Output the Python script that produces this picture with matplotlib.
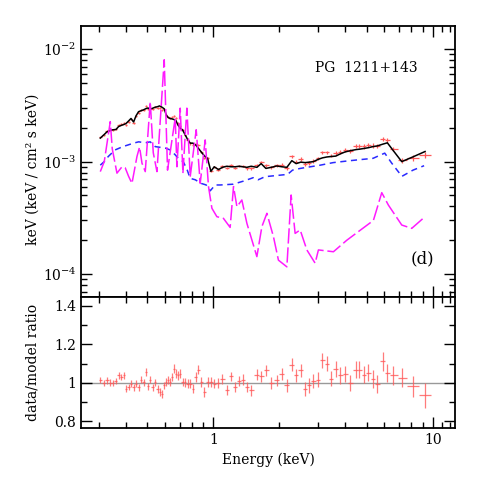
import numpy as np
import matplotlib
matplotlib.use('Agg')
import matplotlib.pyplot as plt
from matplotlib.ticker import FixedLocator, FixedFormatter, NullFormatter, MultipleLocator

# bin centres (keV)
energy = [0.3045, 0.3151, 0.3266, 0.3382, 0.3479, 0.3590, 0.3690, 0.3797, 0.3905, 0.3988,
          0.4100, 0.4204, 0.4320, 0.4430, 0.4552, 0.4683, 0.4797, 0.4919, 0.5023, 0.5146,
          0.5272, 0.5424, 0.5556, 0.5674, 0.5818, 0.5960, 0.6087, 0.6197, 0.6328, 0.6462,
          0.6599, 0.6739, 0.6881, 0.7050, 0.7222, 0.7430, 0.7612, 0.7830, 0.8056, 0.8315,
          0.8542, 0.8787, 0.9070, 0.9390, 0.9730, 1.0074, 1.0539, 1.0990, 1.1511, 1.2006,
          1.2559, 1.3098, 1.3614, 1.4197, 1.4852, 1.5770, 1.6498, 1.7335, 1.8323,
          1.945, 2.050, 2.161, 2.277, 2.382, 2.502, 2.618, 2.739, 2.856, 3.010,
          3.139, 3.288, 3.429, 3.613, 3.780, 3.984, 4.199, 4.471, 4.629, 4.863,
          5.088, 5.328, 5.591, 5.916, 6.209, 6.613, 7.223, 8.104, 9.224]

# total model (keV^2 photons / cm^2 s keV)
model = [1.62e-3, 1.72e-3, 1.84e-3, 1.90e-3, 1.92e-3, 1.93e-3, 2.05e-3, 2.10e-3, 2.14e-3, 2.18e-3,
         2.30e-3, 2.42e-3, 2.25e-3, 2.55e-3, 2.78e-3, 2.84e-3, 2.89e-3, 2.96e-3, 3.00e-3, 2.93e-3,
         2.98e-3, 3.05e-3, 3.08e-3, 3.13e-3, 3.05e-3, 2.95e-3, 2.60e-3, 2.48e-3, 2.42e-3, 2.40e-3,
         2.37e-3, 2.32e-3, 2.12e-3, 1.98e-3, 1.92e-3, 1.73e-3, 1.58e-3, 1.46e-3, 1.46e-3, 1.40e-3,
         1.31e-3, 1.22e-3, 1.13e-3, 1.07e-3, 8.2e-4, 9.0e-4, 8.5e-4, 8.9e-4, 9.1e-4, 9.0e-4,
         9.0e-4, 9.1e-4, 9.0e-4, 8.9e-4, 9.1e-4, 8.9e-4, 9.6e-4, 8.7e-4, 8.9e-4,
         9.15e-4, 9.0e-4, 8.9e-4, 1.02e-3, 9.6e-4, 9.9e-4, 9.8e-4, 9.9e-4, 1.0e-3, 1.05e-3,
         1.08e-3, 1.10e-3, 1.11e-3, 1.12e-3, 1.17e-3, 1.22e-3, 1.25e-3, 1.28e-3, 1.29e-3, 1.31e-3,
         1.33e-3, 1.36e-3, 1.38e-3, 1.43e-3, 1.47e-3, 1.25e-3, 1.0e-3, 1.10e-3, 1.23e-3]

# data / model ratio and its error
ratio = [1.016, 0.998, 1.012, 1.000, 0.998, 1.009, 1.038, 1.030, 1.040, 0.969,
         0.977, 0.995, 0.977, 0.995, 0.977, 1.016, 1.003, 1.056, 0.981, 1.016,
         0.977, 1.003, 0.969, 0.951, 0.943, 0.986, 1.003, 1.012, 1.003, 1.030,
         1.073, 1.047, 1.038, 1.047, 1.003, 1.003, 0.995, 0.995, 0.969, 1.030,
         1.068, 1.003, 0.951, 1.003, 1.003, 0.995, 0.998, 1.021, 0.963, 1.033,
         0.977, 1.009, 1.016, 0.977, 0.960, 1.042, 1.033, 1.064, 0.998,
         1.012, 1.047, 0.986, 1.094, 1.038, 1.064, 0.969, 0.986, 1.009, 1.016,
         1.117, 1.099, 1.021, 1.073, 1.038, 1.047, 0.998, 1.068, 1.068, 1.042,
         1.052, 1.021, 0.995, 1.111, 1.050, 1.038, 1.026, 0.981, 0.934]
ratio_err = [0.016, 0.016, 0.017, 0.017, 0.016, 0.017, 0.018, 0.017, 0.018, 0.017,
             0.017, 0.018, 0.018, 0.017, 0.018, 0.018, 0.018, 0.019, 0.018, 0.018,
             0.019, 0.019, 0.020, 0.020, 0.020, 0.020, 0.021, 0.021, 0.022, 0.022,
             0.024, 0.022, 0.023, 0.022, 0.022, 0.023, 0.022, 0.023, 0.024, 0.024,
             0.025, 0.025, 0.026, 0.025, 0.025, 0.024, 0.025, 0.026, 0.026, 0.025,
             0.026, 0.026, 0.027, 0.027, 0.027, 0.028, 0.028, 0.030, 0.030,
             0.030, 0.032, 0.033, 0.035, 0.035, 0.036, 0.036, 0.037, 0.037, 0.038,
             0.040, 0.040, 0.040, 0.042, 0.042, 0.042, 0.043, 0.044, 0.044, 0.045,
             0.045, 0.046, 0.046, 0.048, 0.048, 0.050, 0.050, 0.055, 0.065]

# power-law continuum component
pl_energy = [0.3045, 0.3175, 0.3311, 0.3555, 0.3860, 0.4089, 0.4315, 0.4557, 0.4884, 0.5146,
             0.5423, 0.5716, 0.6024, 0.6349, 0.6689, 0.6904, 0.7277, 0.7593, 0.7830, 0.8253,
             0.8794, 0.9262, 0.9660, 1.0176, 1.073, 1.229, 1.366, 1.518, 1.599, 1.720,
             2.177, 2.293, 2.485, 3.066, 3.514, 4.196, 5.341, 6.041, 6.498, 7.233, 8.125, 9.133]
pl_flux = [9.3e-4, 1.0e-3, 1.11e-3, 1.27e-3, 1.36e-3, 1.41e-3, 1.46e-3, 1.50e-3, 1.47e-3, 1.50e-3,
           1.36e-3, 1.34e-3, 1.32e-3, 1.27e-3, 1.15e-3, 1.07e-3, 1.0e-3, 8.4e-4, 7.1e-4, 6.9e-4,
           6.4e-4, 6.2e-4, 5.5e-4, 6.2e-4, 6.2e-4, 6.3e-4, 6.7e-4, 7.2e-4, 6.9e-4, 7.35e-4,
           7.7e-4, 8.4e-4, 8.7e-4, 9.3e-4, 9.8e-4, 1.02e-3, 1.07e-3, 1.19e-3, 9.7e-4, 7.4e-4, 8.4e-4, 9.2e-4]

# reflection / line component
refl_energy = [0.3045, 0.3175, 0.3382, 0.3453, 0.3628, 0.3825, 0.3958, 0.4100, 0.4247, 0.4476,
               0.4600, 0.4718, 0.4884, 0.5146, 0.5312, 0.5521, 0.5960, 0.6171, 0.6414, 0.6689,
               0.6810, 0.7050, 0.7253, 0.7561, 0.7830, 0.8340, 0.8697, 0.9166, 0.9489, 0.9833,
               1.036, 1.110, 1.191, 1.234, 1.279, 1.347, 1.420, 1.577, 1.662, 1.752,
               1.877, 1.978, 2.161, 2.260, 2.357, 2.485, 2.666, 2.908, 3.010, 3.524,
               4.055, 5.362, 5.855, 6.275, 7.223, 8.021, 9.224]
refl_flux = [8.15e-4, 1.0e-3, 2.27e-3, 1.3e-3, 7.9e-4, 9.0e-4, 8.8e-4, 7.4e-4, 6.4e-4, 1.11e-3,
             1.35e-3, 9.7e-4, 8.15e-4, 3.42e-3, 1.2e-3, 8.15e-4, 8.05e-3, 8.4e-4, 1.4e-3, 2.44e-3,
             9.0e-4, 2.99e-3, 7.9e-4, 2.99e-3, 7.35e-4, 1.92e-3, 6.42e-4, 1.56e-3, 6.0e-4, 3.85e-4,
             3.24e-4, 3.13e-4, 2.6e-4, 6.0e-4, 3.97e-4, 4.56e-4, 2.83e-4, 1.43e-4, 2.64e-4, 3.47e-4,
             2.15e-4, 1.33e-4, 1.16e-4, 5.05e-4, 2.3e-4, 2.47e-4, 1.64e-4, 1.25e-4, 1.64e-4, 1.58e-4,
             2.0e-4, 3.0e-4, 5.3e-4, 4.11e-4, 2.73e-4, 2.55e-4, 3.24e-4]

plt.rcParams['font.family'] = 'DejaVu Serif'
plt.rcParams['mathtext.fontset'] = 'dejavuserif'

e = np.array(energy)
mid = np.sqrt(e[1:] * e[:-1])
lo = np.concatenate([[e[0] ** 2 / mid[0]], mid])
hi = np.concatenate([mid, [e[-1] ** 2 / mid[-1]]])
xerr = [e - lo, hi - e]
data = np.array(model) * np.array(ratio)
data_err = np.array(model) * np.array(ratio_err)

red = '#ff5a5a'

fig = plt.figure(figsize=(4.8, 4.8), dpi=100)
ax1 = fig.add_axes([0.169, 0.381, 0.779, 0.565])
ax2 = fig.add_axes([0.169, 0.108, 0.779, 0.273])

# top panel: unfolded spectrum
ax1.errorbar(e, data, xerr=xerr, yerr=data_err, fmt='none', ecolor=red, elinewidth=0.9)
ax1.plot(e, model, color='black', lw=1.1)
ax1.plot(pl_energy, pl_flux, color='#2a2aff', lw=1.1, dashes=(4, 3))
ax1.plot(refl_energy, refl_flux, color='#ff1aff', lw=1.1, dashes=(10, 2.5))
ax1.set_xscale('log')
ax1.set_yscale('log')
ax1.set_xlim(0.249, 12.64)
ax1.set_ylim(6.24e-5, 1.61e-2)
ax1.set_ylabel('keV (keV / cm² s keV)', fontsize=10)
ax1.yaxis.set_label_coords(-0.11, 0.47)
ax1.text(0.90, 0.845, 'PG  1211+143', transform=ax1.transAxes, ha='right', va='center', fontsize=10)
ax1.text(0.945, 0.14, '(d)', transform=ax1.transAxes, ha='right', va='center', fontsize=12)

# bottom panel: ratio
ax2.axhline(1.0, color='#999999', lw=1.0, zorder=1)
ax2.errorbar(e, ratio, xerr=xerr, yerr=ratio_err, fmt='none', ecolor=red, elinewidth=0.9, alpha=0.8)
ax2.set_xscale('log')
ax2.set_xlim(0.249, 12.64)
ax2.set_ylim(0.764, 1.445)
ax2.set_xlabel('Energy (keV)', fontsize=10)
ax2.set_ylabel('data/model ratio', fontsize=10)
ax2.yaxis.set_label_coords(-0.11, 0.5)
ax2.yaxis.set_major_locator(FixedLocator([0.8, 1.0, 1.2, 1.4]))
ax2.yaxis.set_major_formatter(FixedFormatter(['0.8', '1', '1.2', '1.4']))
ax2.yaxis.set_minor_locator(MultipleLocator(0.1))

minor_x = [0.3, 0.4, 0.5, 0.6, 0.7, 0.8, 0.9, 2, 3, 4, 5, 6, 7, 8, 9, 11, 12]
for ax in (ax1, ax2):
    ax.xaxis.set_major_locator(FixedLocator([1, 10]))
    ax.xaxis.set_minor_locator(FixedLocator(minor_x))
    ax.xaxis.set_minor_formatter(NullFormatter())
    ax.tick_params(which='both', direction='in', top=True, right=True, labelsize=10, width=1.0)
    ax.tick_params(which='major', length=8)
    ax.tick_params(which='minor', length=4.5)
    for s in ax.spines.values():
        s.set_linewidth(1.3)

ax1.xaxis.set_major_formatter(NullFormatter())
ax2.xaxis.set_major_formatter(FixedFormatter(['1', '10']))

fig.savefig('out.png', dpi=100)
plt.close(fig)
